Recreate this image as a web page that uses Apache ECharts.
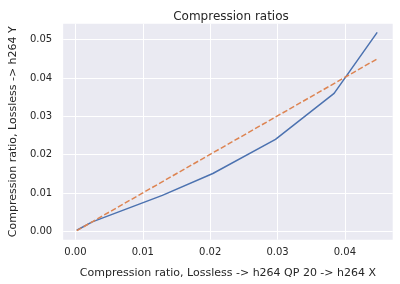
<!DOCTYPE html>
<html><head><meta charset="utf-8">
<script src="https://cdn.jsdelivr.net/npm/echarts@6/dist/echarts.min.js"></script>
<style>html,body{margin:0;padding:0;background:#fff}#c{width:400px;height:284px}</style>
</head><body><div id="c"></div>
<script>
const xTicks = [0.00, 0.01, 0.02, 0.03, 0.04];
const yTicks = [0.00, 0.01, 0.02, 0.03, 0.04, 0.05];
const blueX = [0.0002, 0.0025, 0.0129, 0.0204, 0.0297, 0.0384, 0.0448];
const blueY = [0.0003, 0.0025, 0.0094, 0.0151, 0.0240, 0.0360, 0.0519];
const orangeX = [0.0002, 0.0448];
const orangeY = [0.0002, 0.0450];

const chart = echarts.init(document.getElementById('c'), null, {renderer: 'canvas'});
const font = 'DejaVu Sans';
const txt = '#262626';
chart.setOption({
  animation: false,
  backgroundColor: '#ffffff',
  title: {text: 'Compression ratios', left: 226, textAlign: 'center', top: 6,
    textStyle: {fontFamily: font, fontSize: 12, fontWeight: 'normal', color: txt}},
  grid: {left: 59.3, right: 7.3, top: 23.7, bottom: 44.3, backgroundColor: '#EAEAF2', show: true, borderWidth: 0},
  xAxis: {type: 'value', min: -0.00182, max: 0.0471,
    name: 'Compression ratio, Lossless -> h264 QP 20 -> h264 X',
    nameLocation: 'middle', nameGap: 28,
    nameTextStyle: {fontFamily: font, fontSize: 11, color: txt},
    axisLine: {show: false}, axisTick: {show: false, customValues: xTicks},
    axisLabel: {customValues: xTicks, formatter: v => v.toFixed(2), fontFamily: font, fontSize: 10, color: txt, margin: 8},
    splitLine: {show: true, lineStyle: {color: '#ffffff', width: 1}}},
  yAxis: {type: 'value', min: -0.00216, max: 0.05417,
    name: 'Compression ratio, Lossless -> h264 Y',
    nameLocation: 'middle', nameGap: 40,
    nameTextStyle: {fontFamily: font, fontSize: 11, color: txt},
    axisLine: {show: false}, axisTick: {show: false, customValues: yTicks},
    axisLabel: {customValues: yTicks, formatter: v => v.toFixed(2), fontFamily: font, fontSize: 10, color: txt, margin: 11},
    splitLine: {show: true, lineStyle: {color: '#ffffff', width: 1}}},
  series: [
    {type: 'line', data: blueX.map((x, i) => [x, blueY[i]]), showSymbol: false,
      lineStyle: {color: '#4C72B0', width: 1.5}, itemStyle: {color: '#4C72B0'}},
    {type: 'line', data: orangeX.map((x, i) => [x, orangeY[i]]), showSymbol: false,
      lineStyle: {color: '#DD8452', width: 1.5, type: [5.5, 2.4]}, itemStyle: {color: '#DD8452'}}
  ]
});
</script></body></html>
